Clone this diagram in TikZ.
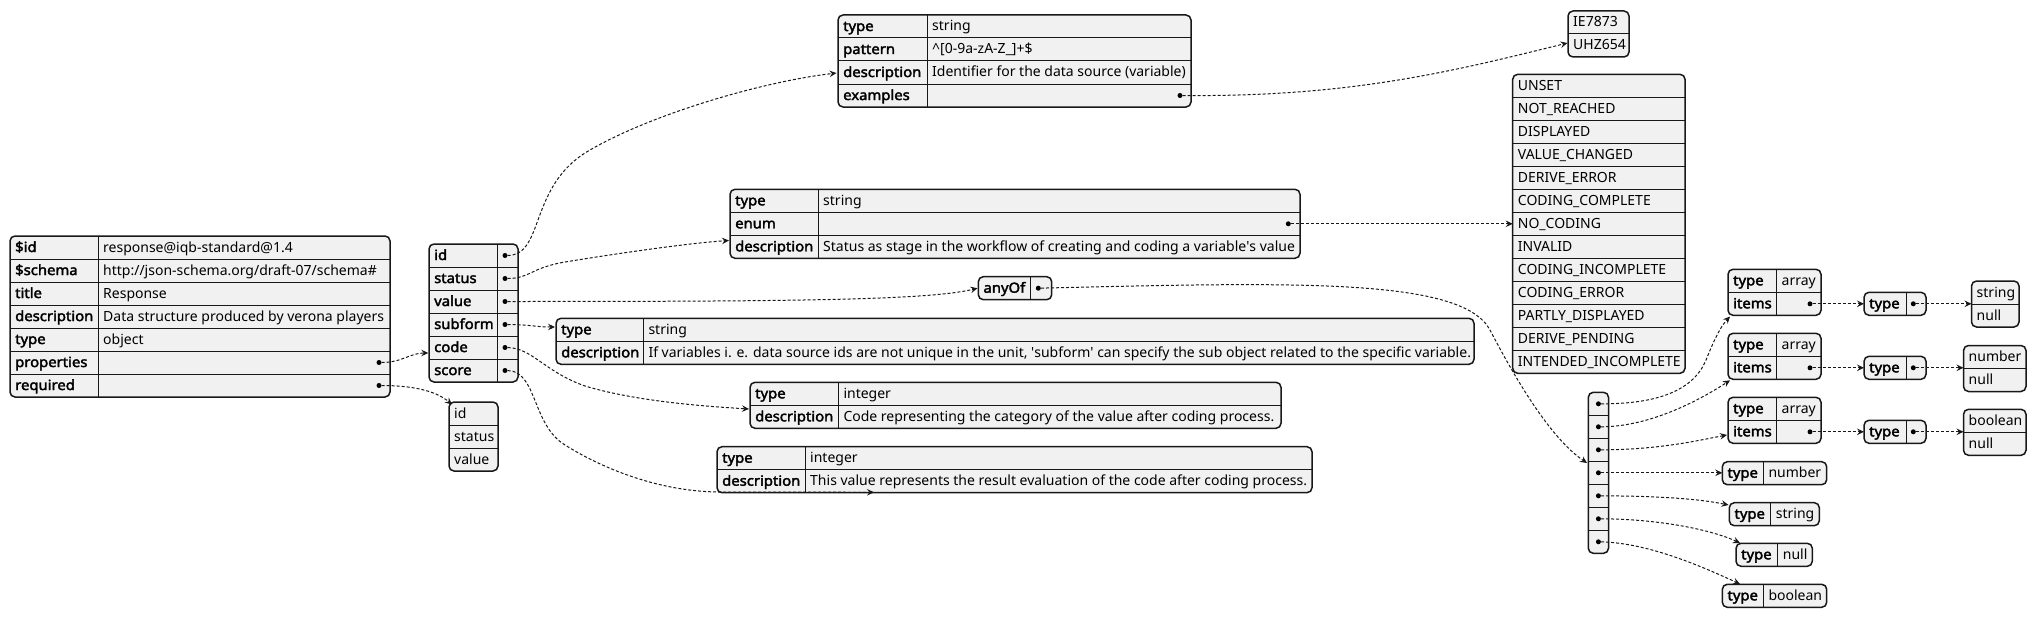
\documentclass[tikz,border=0pt]{standalone}
\usepackage{fontspec}
\setmainfont{Noto Sans}[BoldFont={Noto Sans}, BoldFeatures={FakeBold=2.5, FakeStretch=1.06}]
\usetikzlibrary{arrows.meta}
\definecolor{boxfill}{HTML}{F1F1F1}
\definecolor{ink}{HTML}{181818}
\def\rh{23}
\newcommand\tbox[6]{%
  \pgfmathsetmacro\tbw{#4-#2}%
  \pgfmathsetmacro\tbh{#5*\rh}%
  \node[tbl, minimum width=\tbw pt, minimum height=\tbh pt] (#1) at (#2,#3) {};
  \pgfmathtruncatemacro\tbn{#5-1}%
  \ifnum\tbn>0 \foreach \i in {1,...,\tbn}{\draw[sep] (#2,{#3+\i*\rh}) -- (#4,{#3+\i*\rh});}\fi
  \if\relax\detokenize{#6}\relax\else \draw[sep] (#6,#3) -- (#6,{#3+#5*\rh});\fi
  \xdef\bl{#2}\xdef\bt{#3}\xdef\bd{#6}%
}
\newcommand\kk[3]{\node[keyt] (#1) at ({\bl+5},{\bt+(#2-0.5)*\rh+4.5}) {#3};}
\newcommand\vv[3]{\node[valt] (#1) at ({\bd+5},{\bt+(#2-0.5)*\rh+4.5}) {#3};}
\newcommand\li[3]{\node[valt] (#1) at ({\bl+5},{\bt+(#2-0.5)*\rh+4.5}) {#3};}
\newcommand\dt[3]{\node[dotn] (#1) at (#3,{\bt+(#2-0.5)*\rh}) {};}
\begin{document}
\begin{tikzpicture}[x=1pt,y=-1pt, font=\fontsize{14pt}{16pt}\selectfont,
 tbl/.style={draw=ink, line width=1.5pt, fill=boxfill, rounded corners=5pt, inner sep=0pt, outer sep=0pt, anchor=north west},
 sep/.style={draw=ink, line width=1pt},
 keyt/.style={font=\fontsize{14pt}{16pt}\selectfont\bfseries, anchor=base west, inner sep=0pt, text=black},
 valt/.style={anchor=base west, inner sep=0pt, text=black},
 dotn/.style={circle, fill=black, minimum size=5pt, inner sep=0pt},
 conn/.style={draw=ink, line width=1pt, dash pattern=on 3pt off 2pt, -{Stealth[length=7pt,width=6.5pt,inset=2.5pt]}},
]
\useasboundingbox (0,0) rectangle (2037,618);

% root
\tbox{root}{10}{236}{390}{7}{98}
\kk{root-k1}{1}{\$id}\vv{root-v1}{1}{response@iqb-standard@1.4}
\kk{root-k2}{2}{\$schema}\vv{root-v2}{2}{http://json-schema.org/draft-07/schema\#}
\kk{root-k3}{3}{title}\vv{root-v3}{3}{Response}
\kk{root-k4}{4}{description}\vv{root-v4}{4}{Data structure produced by verona players}
\kk{root-k5}{5}{type}\vv{root-v5}{5}{object}
\kk{root-k6}{6}{properties}\dt{root-d6}{6}{379}
\kk{root-k7}{7}{required}\dt{root-d7}{7}{379}

% properties
\tbox{props}{429}{244}{518}{6}{497}
\kk{props-k1}{1}{id}\dt{props-d1}{1}{505}
\kk{props-k2}{2}{status}\dt{props-d2}{2}{505}
\kk{props-k3}{3}{value}\dt{props-d3}{3}{505}
\kk{props-k4}{4}{subform}\dt{props-d4}{4}{505}
\kk{props-k5}{5}{code}\dt{props-d5}{5}{505}
\kk{props-k6}{6}{score}\dt{props-d6}{6}{505}

% required
\tbox{req}{449}{402}{498}{3}{}
\li{req-1}{1}{id}\li{req-2}{2}{status}\li{req-3}{3}{value}

% id schema
\tbox{idsch}{838}{15}{1191}{4}{927}
\kk{idsch-k1}{1}{type}\vv{idsch-v1}{1}{string}
\kk{idsch-k2}{2}{pattern}\vv{idsch-v2}{2}{\textasciicircum[0-9a-zA-Z\_]+\$}
\kk{idsch-k3}{3}{description}\vv{idsch-v3}{3}{Identifier for the data source (variable)}
\kk{idsch-k4}{4}{examples}\dt{idsch-d4}{4}{1180}

% examples
\tbox{ex}{1568}{11}{1629}{2}{}
\li{ex-1}{1}{IE7873}\li{ex-2}{2}{UHZ654}

% status schema
\tbox{stsch}{730}{189.3}{1300}{3}{818}
\kk{stsch-k1}{1}{type}\vv{stsch-v1}{1}{string}
\kk{stsch-k2}{2}{enum}\dt{stsch-d2}{2}{1288.3}
\kk{stsch-k3}{3}{description}\vv{stsch-v3}{3}{Status as stage in the workflow of creating and coding a variable\textquotesingle s value}

% enum
\tbox{enum}{1512.7}{74.3}{1685}{13}{}
\foreach \t [count=\i] in {UNSET,NOT\_REACHED,DISPLAYED,VALUE\_CHANGED,DERIVE\_ERROR,CODING\_COMPLETE,NO\_CODING,INVALID,CODING\_INCOMPLETE,CODING\_ERROR,PARTLY\_DISPLAYED,DERIVE\_PENDING,INTENDED\_INCOMPLETE}{\li{enum-\i}{\i}{\t}}

% anyOf
\tbox{anyof}{978.3}{276.7}{1051.7}{1}{1030}
\kk{anyof-k1}{1}{anyOf}\dt{anyof-d1}{1}{1038.3}

% subform schema
\tbox{subsch}{556}{318.3}{1474}{2}{643.3}
\kk{subsch-k1}{1}{type}\vv{subsch-v1}{1}{string}
\kk{subsch-k2}{2}{description}\vv{subsch-v2}{2}{If variables i. e. data source ids are not unique in the unit, \textquotesingle subform\textquotesingle{} can specify the sub object related to the specific variable.}

% code schema
\tbox{codesch}{750}{382.3}{1281}{2}{838.3}
\kk{codesch-k1}{1}{type}\vv{codesch-v1}{1}{integer}
\kk{codesch-k2}{2}{description}\vv{codesch-v2}{2}{Code representing the category of the value after coding process.}

% score schema
\tbox{scoresch}{717}{446.7}{1312}{2}{805}
\kk{scoresch-k1}{1}{type}\vv{scoresch-v1}{1}{integer}
\kk{scoresch-k2}{2}{description}\vv{scoresch-v2}{2}{This value represents the result evaluation of the code after coding process.}

% anyOf list
\tbox{list}{1588.3}{392.3}{1608.5}{7}{}
\foreach \i in {1,...,7}{\dt{list-d\i}{\i}{1598.4}}

% array boxes
\tbox{arr1}{1728}{269.3}{1821}{2}{1776.5}
\kk{arr1-k1}{1}{type}\vv{arr1-v1}{1}{array}\kk{arr1-k2}{2}{items}\dt{arr1-d2}{2}{1810}
\tbox{arr2}{1728}{333.3}{1821}{2}{1776.5}
\kk{arr2-k1}{1}{type}\vv{arr2-v1}{1}{array}\kk{arr2-k2}{2}{items}\dt{arr2-d2}{2}{1810}
\tbox{arr3}{1728}{397.3}{1821}{2}{1776.5}
\kk{arr3-k1}{1}{type}\vv{arr3-v1}{1}{array}\kk{arr3-k2}{2}{items}\dt{arr3-d2}{2}{1810}

\tbox{t1}{1864}{292.3}{1926}{1}{1906}
\kk{t1-k1}{1}{type}\dt{t1-d1}{1}{1913.3}
\tbox{t2}{1864}{356.3}{1926}{1}{1906}
\kk{t2-k1}{1}{type}\dt{t2-d1}{1}{1913.3}
\tbox{t3}{1864}{420.3}{1926}{1}{1906}
\kk{t3-k1}{1}{type}\dt{t3-d1}{1}{1913.3}

\tbox{sn}{1971.5}{281}{2019}{2}{}
\li{sn-1}{1}{string}\li{sn-2}{2}{null}
\tbox{nn}{1963.5}{345.5}{2026}{2}{}
\li{nn-1}{1}{number}\li{nn-2}{2}{null}
\tbox{bn}{1963.5}{409.3}{2026}{2}{}
\li{bn-1}{1}{boolean}\li{bn-2}{2}{null}

\tbox{tnum}{1722.3}{461.7}{1826.7}{1}{1763.3}
\kk{tnum-k1}{1}{type}\vv{tnum-v1}{1}{number}
\tbox{tstr}{1729.3}{502.7}{1819.3}{1}{1770.7}
\kk{tstr-k1}{1}{type}\vv{tstr-v1}{1}{string}
\tbox{tnull}{1736}{543.3}{1812.3}{1}{1777.7}
\kk{tnull-k1}{1}{type}\vv{tnull-v1}{1}{null}
\tbox{tbool}{1722.3}{584.3}{1826.7}{1}{1763.3}
\kk{tbool-k1}{1}{type}\vv{tbool-v1}{1}{boolean}

% connector end points
\coordinate (props-in) at (428.3,353);
\coordinate (req-in) at (452,404.5);
\coordinate (idsch-in) at (836.5,73);
\coordinate (stsch-in) at (729,240.5);
\coordinate (anyof-in) at (977.5,288.2);
\coordinate (subsch-in) at (555,327);
\coordinate (codesch-in) at (749,409);
\coordinate (scoresch-in) at (874,492.3);
\coordinate (ex-in) at (1567.5,43);
\coordinate (list-in) at (1587,463);
\coordinate (arr1-in) at (1730,316.5);
\coordinate (arr2-in) at (1730,380.3);
\coordinate (arr3-in) at (1727,435);
\coordinate (tstr-in) at (1728.5,505);
\coordinate (tnull-in) at (1740,543);
\coordinate (tbool-in) at (1740,584);

% connectors
\draw[conn] (root-d6) .. controls (402,362.5) and (410,353) .. (props-in);
\draw[conn] (root-d7) .. controls (410,385.5) and (435,390) .. (req-in);
\draw[conn] (props-d1) .. controls (545,255) and (528,185) .. (590,150) .. controls (650,115) and (760,82) .. (idsch-in);
\draw[conn] (props-d2) .. controls (530,278.5) and (530,268) .. (565,262) .. controls (620,253) and (690,243) .. (stsch-in);
\draw[conn] (props-d3) .. controls (800,301.5) and (930,300) .. (anyof-in);
\draw[conn] (props-d4) .. controls (530,324.5) and (535,327) .. (subsch-in);
\draw[conn] (props-d5) .. controls (532,348) and (545,372) .. (585,386) .. controls (635,401) and (700,406) .. (codesch-in);
\draw[conn] (props-d6) .. controls (537,371) and (532,425) .. (565,445) .. controls (605,470) and (660,491) .. (717,492) -- (scoresch-in);
\draw[conn] (idsch-d4) .. controls (1350,97) and (1450,72) .. (ex-in);
\draw[conn] (stsch-d2) -- (enum.west |- stsch-d2);
\draw[conn] (anyof-d1) .. controls (1300,282) and (1462,278) .. (1490,330) .. controls (1515,378) and (1550,438) .. (list-in);
\draw[conn] (list-d1) .. controls (1650,404) and (1692,394) .. (1706,360) .. controls (1716,335) and (1722,325) .. (arr1-in);
\draw[conn] (list-d2) .. controls (1650,426.8) and (1700,400) .. (arr2-in);
\draw[conn] (list-d3) .. controls (1660,449.8) and (1700,440) .. (arr3-in);
\draw[conn] (list-d4) -- (tnum.west |- list-d4);
\draw[conn] (list-d5) .. controls (1660,496) and (1700,499) .. (tstr-in);
\draw[conn] (list-d6) .. controls (1660,519) and (1712,530) .. (tnull-in);
\draw[conn] (list-d7) .. controls (1650,543) and (1705,568) .. (tbool-in);
\draw[conn] (arr1-d2) -- (t1.west |- arr1-d2);
\draw[conn] (arr2-d2) -- (t2.west |- arr2-d2);
\draw[conn] (arr3-d2) -- (t3.west |- arr3-d2);
\draw[conn] (t1-d1) -- (sn.west |- t1-d1);
\draw[conn] (t2-d1) -- (nn.west |- t2-d1);
\draw[conn] (t3-d1) -- (bn.west |- t3-d1);
\end{tikzpicture}
\end{document}
